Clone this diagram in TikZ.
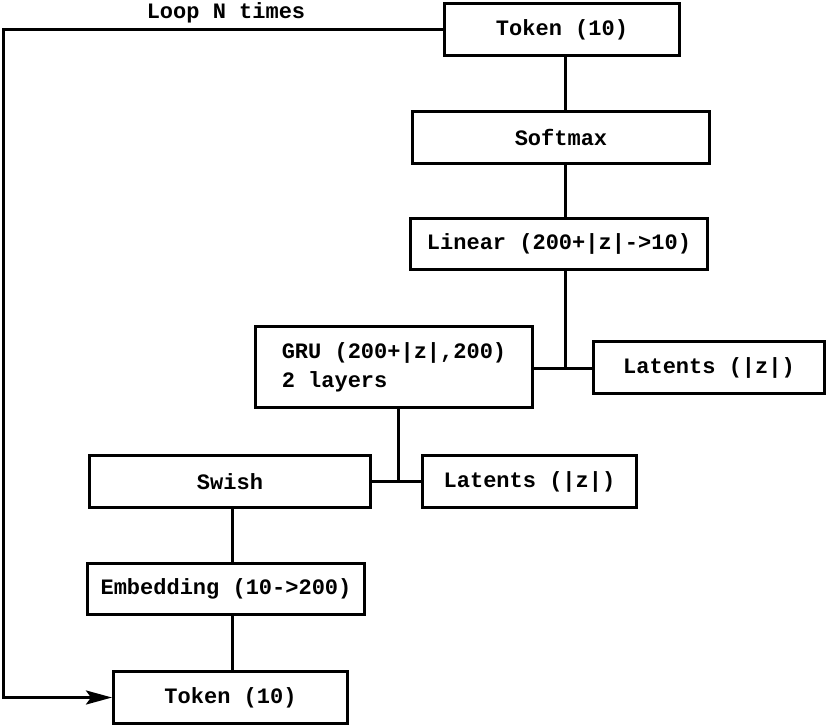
\documentclass[tikz,border=0pt]{standalone}
\usepackage{fontspec}
\setmainfont{Liberation Mono}
\usetikzlibrary{arrows.meta}
\tikzset{
  box/.style={draw, line width=3pt, inner sep=0pt, font=\fontsize{22}{29}\selectfont\bfseries},
  conn/.style={line width=3pt},
}
\begin{document}
\begin{tikzpicture}[x=1pt,y=-1pt]
\useasboundingbox (0,0) rectangle (830,728);
\node[box, minimum width=235pt, minimum height=52pt] (tok1) at (562,29.5) {Token (10)};
\node[box, minimum width=297pt, minimum height=52pt] (soft) at (561,137.5) {Softmax};
\node[box, minimum width=297pt, minimum height=51pt] (lin) at (559,244) {Linear (200+|z|->10)};
\node[box, minimum width=277pt, minimum height=81pt, align=left] (gru) at (394,367) {GRU (200+|z|,200)\\2 layers};
\node[box, minimum width=231pt, minimum height=52pt] (latR) at (709,367.5) {Latents (|z|)};
\node[box, minimum width=281pt, minimum height=52pt] (swish) at (230,481.5) {Swish};
\node[box, minimum width=214pt, minimum height=52pt] (latM) at (529.5,481.5) {Latents (|z|)};
\node[box, minimum width=277pt, minimum height=51pt] (emb) at (226,589) {Embedding (10->200)};
\node[box, minimum width=234pt, minimum height=52pt] (tok2) at (230.5,697.5) {Token (10)};
\node[font=\fontsize{22}{29}\selectfont\bfseries] (loop) at (226,13) {Loop N times};
\coordinate (v1) at (565,0);
\coordinate (j1) at (565,368);
\coordinate (j2) at (398,481);
\coordinate (v3) at (232,0);
\coordinate (c1) at (3,29.5);
\draw[conn] (tok1.south -| v1) -- (soft.north -| v1);
\draw[conn] (soft.south -| v1) -- (lin.north -| v1);
\draw[conn] (lin.south -| v1) -- (j1);
\draw[conn] (gru.east |- j1) -- (latR.west |- j1);
\draw[conn] (gru.south -| j2) -- (j2);
\draw[conn] (swish.east |- j2) -- (latM.west |- j2);
\draw[conn] (swish.south -| v3) -- (emb.north -| v3);
\draw[conn] (emb.south -| v3) -- (tok2.north -| v3);
\draw[conn, -{Stealth[length=26pt,width=14pt,inset=5pt]}] (tok1.west) -- (c1) |- (tok2.west);
\end{tikzpicture}
\end{document}
